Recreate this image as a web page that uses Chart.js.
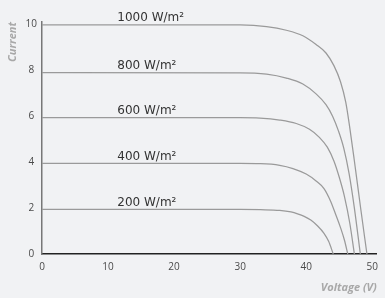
<!DOCTYPE html>
<html>
<head>
<meta charset="utf-8">
<script src="https://cdn.jsdelivr.net/npm/chart.js@4/dist/chart.umd.min.js"></script>
<style>
  html, body { margin: 0; padding: 0; background: #f1f2f4; }
  #wrap { width: 385px; height: 298px; }
</style>
</head>
<body>
<div id="wrap"><canvas id="c" width="385" height="298"></canvas></div>
<script>
// Irradiance levels (series names)
const seriesLabels = ['1000 W/m²', '800 W/m²', '600 W/m²', '400 W/m²', '200 W/m²'];

// Voltage (V) / Current (A) points, one pair per series
const v1000 = [0, 30, 34, 37, 39.5, 41.5, 43, 44.2, 45.2, 46, 46.6, 47.3, 48.2, 49.2];
const i1000 = [9.98, 9.97, 9.9, 9.74, 9.5, 9.12, 8.75, 8.2, 7.5, 6.6, 5.5, 4.05, 2.1, 0];

const v800 = [0, 30, 34, 37, 39.5, 41.5, 43, 44, 44.9, 45.7, 46.5, 47.3, 48.2];
const i800 = [7.9, 7.89, 7.83, 7.66, 7.4, 6.97, 6.5, 6.0, 5.35, 4.6, 3.5, 2.0, 0];

const v600 = [0, 30, 33, 36, 38.5, 40.5, 42, 43.2, 44.2, 45, 45.8, 46.6, 47.3];
const i600 = [5.94, 5.94, 5.92, 5.83, 5.68, 5.43, 5.08, 4.65, 4.05, 3.35, 2.5, 1.35, 0];

const v400 = [0, 30, 33.1, 36, 38, 40, 41.5, 42.7, 43.7, 44.5, 45.2, 45.8, 46.3];
const i400 = [3.94, 3.94, 3.93, 3.86, 3.72, 3.48, 3.18, 2.85, 2.3, 1.7, 1.15, 0.6, 0];

const v200 = [0, 30, 33.1, 36, 37.7, 38.7, 39.7, 40.7, 41.7, 42.7, 43.4, 44.1];
const i200 = [1.94, 1.94, 1.93, 1.9, 1.83, 1.75, 1.64, 1.48, 1.23, 0.9, 0.55, 0];

// Tick values
const xTicks = [0, 10, 20, 30, 40, 50];
const yTicks = [0, 2, 4, 6, 8, 10];

// Voltage at which each series label starts
const labelVoltage = 11.4;

const seriesV = [v1000, v800, v600, v400, v200];
const seriesI = [i1000, i800, i600, i400, i200];

const datasets = seriesLabels.map((name, k) => ({
  label: name,
  data: seriesV[k].map((v, j) => ({ x: v, y: seriesI[k][j] })),
  borderColor: '#9a9a9a',
  borderWidth: 1.25,
  pointRadius: 0,
  fill: false,
  cubicInterpolationMode: 'monotone'
}));

const seriesLabelPlugin = {
  id: 'seriesLabels',
  afterDatasetsDraw(chart) {
    const { ctx, scales: { x, y } } = chart;
    ctx.save();
    ctx.font = '12px "DejaVu Sans"';
    ctx.fillStyle = '#333333';
    ctx.textAlign = 'left';
    ctx.textBaseline = 'alphabetic';
    seriesLabels.forEach((name, k) => {
      const px = x.getPixelForValue(labelVoltage);
      const py = y.getPixelForValue(seriesI[k][0]) - 3.5;
      ctx.fillText(name, px, py);
    });
    ctx.restore();
  }
};

const bgPlugin = {
  id: 'bg',
  beforeDraw(chart) {
    const ctx = chart.ctx;
    ctx.save();
    ctx.fillStyle = '#f1f2f4';
    ctx.fillRect(0, 0, chart.width, chart.height);
    ctx.restore();
  }
};

new Chart(document.getElementById('c'), {
  type: 'line',
  data: { datasets },
  plugins: [bgPlugin, seriesLabelPlugin],
  options: {
    responsive: false,
    animation: false,
    layout: { padding: { top: 22, right: 5, left: 0, bottom: 0 } },
    plugins: { legend: { display: false }, tooltip: { enabled: false } },
    scales: {
      x: {
        type: 'linear',
        min: 0,
        max: 50.7,
        afterBuildTicks(scale) { scale.ticks = xTicks.map(v => ({ value: v })); },
        afterFit(scale) { scale.height = 44; },
        grid: { display: false, drawTicks: false },
        border: { display: true, color: '#222222', width: 1.5 },
        ticks: { padding: 7, color: '#4a4a4a', font: { family: 'Open Sans', size: 10 }, maxRotation: 0 },
        title: {
          display: true, text: 'Voltage (V)', align: 'end',
          color: '#a8a8a8', font: { family: 'Open Sans', size: 11, style: 'italic', weight: 'bold' },
          padding: { top: 0, bottom: 4 }
        }
      },
      y: {
        type: 'linear',
        min: 0,
        max: 10.1,
        afterBuildTicks(scale) { scale.ticks = yTicks.map(v => ({ value: v })); },
        afterFit(scale) { scale.width = 42; },
        grid: { display: false, drawTicks: false },
        border: { display: true, color: '#777777', width: 1.5 },
        ticks: { padding: 5, crossAlign: 'center', color: '#4a4a4a', font: { family: 'Open Sans', size: 10 } },
        title: {
          display: true, text: 'Current', align: 'end',
          color: '#a8a8a8', font: { family: 'Open Sans', size: 11, style: 'italic', weight: 'bold' },
          padding: { top: 6, bottom: 0 }
        }
      }
    }
  }
});
</script>
</body>
</html>
